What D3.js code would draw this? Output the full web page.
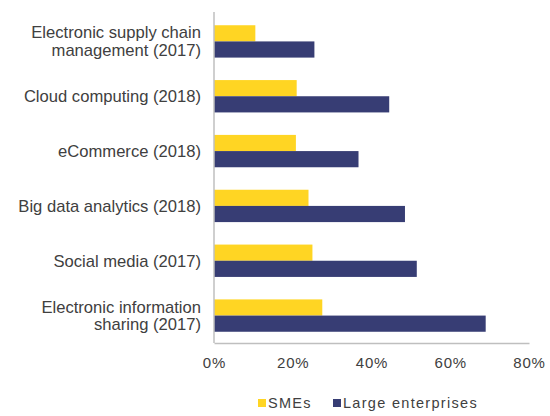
<!DOCTYPE html>
<html><head><meta charset="utf-8">
<script src="https://cdn.jsdelivr.net/npm/d3@7"></script>
<style>body{margin:0;background:#fff}svg{display:block}</style>
</head><body>
<svg id="c" width="550" height="416"></svg>
<script>
const categories = [
  ["Electronic supply chain", "management (2017)"],
  ["Cloud computing (2018)"],
  ["eCommerce (2018)"],
  ["Big data analytics (2018)"],
  ["Social media (2017)"],
  ["Electronic information", "sharing (2017)"]
];
const seriesNames = ["SMEs", "Large enterprises"];
const smes = [10.5, 21, 20.8, 24, 25, 27.5];
const large = [25.5, 44.5, 36.7, 48.5, 51.5, 69];
const xTicks = [0, 20, 40, 60, 80];
const colors = ["#FFD523", "#373D74"];

const svg = d3.select("#c");
const m = {l: 214, r: 529, t: 14, b: 343};
const keys = categories.map((c, i) => i);
const x = d3.scaleLinear().domain([0, 80]).range([m.l, m.r]);
const y = d3.scaleBand().domain(keys).range([m.t, m.b]).paddingInner(0.41).paddingOuter(0.205);
const y1 = d3.scaleBand().domain([0, 1]).range([0, y.bandwidth()]);

const font = "Liberation Sans, Arial, sans-serif";
const txt = "#404040";

// bars
const data = keys.map(i => [smes[i], large[i]]);
const g = svg.append("g");
g.selectAll("g.grp").data(data).join("g")
  .attr("transform", (d, i) => `translate(0,${y(i)})`)
  .selectAll("rect").data(d => d).join("rect")
  .attr("x", x(0))
  .attr("y", (d, j) => y1(j))
  .attr("width", d => x(d) - x(0))
  .attr("height", y1.bandwidth())
  .attr("fill", (d, j) => colors[j]);

// axes lines
const axisX = d3.axisBottom(x).tickValues(xTicks).tickFormat(d => d + "%").tickSize(0).tickPadding(14);
const gx = svg.append("g").attr("transform", `translate(0,${m.b})`).call(axisX);
gx.select(".domain").attr("stroke", "#BFBFBF").attr("stroke-width", 1.5);
gx.selectAll("text").attr("font-family", font).attr("font-size", 15)
  .attr("letter-spacing", 0.8).attr("fill", txt);

svg.append("line").attr("x1", m.l).attr("x2", m.l).attr("y1", m.t - 2).attr("y2", m.b)
  .attr("stroke", "#BFBFBF").attr("stroke-width", 1.5);

// category labels
const lab = svg.append("g");
keys.forEach(i => {
  const lines = categories[i];
  const cy = y(i) + y.bandwidth() / 2;
  const lh = 17.5;
  const t = lab.append("text").attr("text-anchor", "end").attr("font-family", font)
    .attr("font-size", 16.6).attr("fill", txt);
  lines.forEach((ln, k) => {
    t.append("tspan").attr("x", 201)
      .attr("y", cy + (k - (lines.length - 1) / 2) * lh)
      .attr("dy", "0.35em").text(ln);
  });
});

// legend
const lg = svg.append("g").attr("transform", "translate(258,403)");
const items = [{n: seriesNames[0], c: colors[0], x: 0}, {n: seriesNames[1], c: colors[1], x: 75}];
items.forEach(it => {
  lg.append("rect").attr("x", it.x).attr("y", -4).attr("width", 8).attr("height", 8).attr("fill", it.c);
  lg.append("text").attr("x", it.x + 10).attr("y", 0).attr("dy", "0.35em")
    .attr("font-family", font).attr("font-size", 14.5).attr("letter-spacing", 1.3)
    .attr("fill", txt).text(it.n);
});
</script>
</body></html>
